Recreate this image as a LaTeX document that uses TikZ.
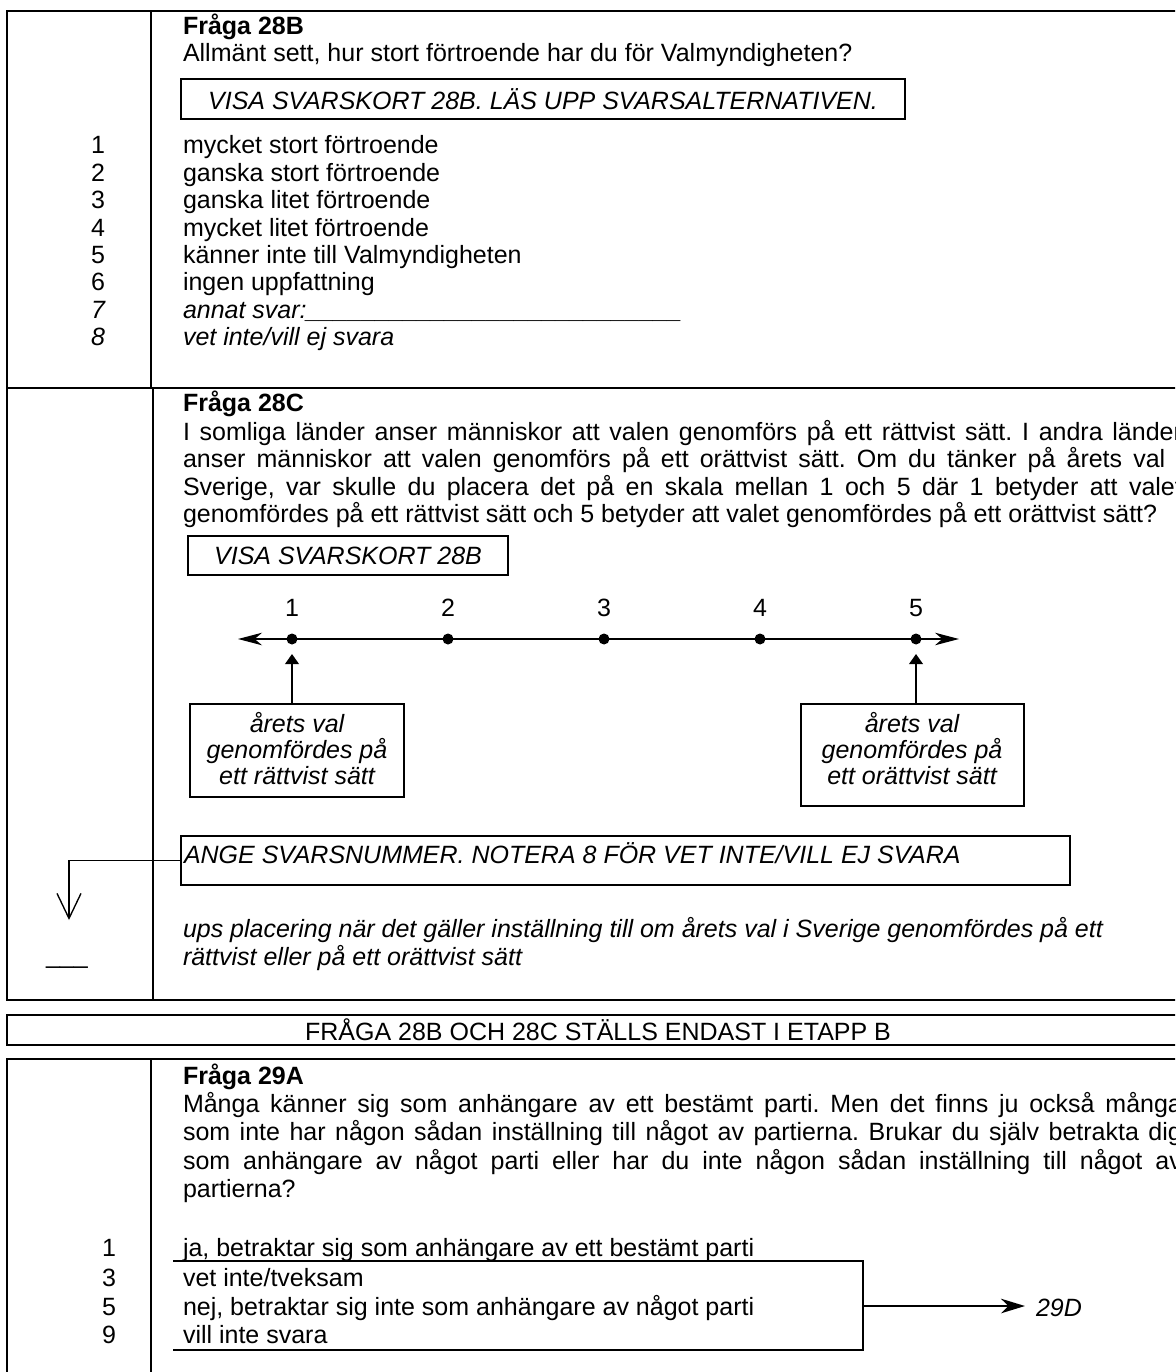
\documentclass[tikz,border=0pt]{standalone}
\usepackage{fontspec}
\setmainfont{Liberation Sans}
\usetikzlibrary{arrows.meta}
\newlength\pxl
\setlength\pxl{0.48pt}
\newcommand\jl[1]{\makebox[999\pxl][s]{#1}}
\frenchspacing
\begin{document}
\fontsize{12pt}{13pt}\selectfont
\begin{tikzpicture}[x=0.48pt,y=-0.48pt,
  every node/.style={inner sep=0pt, outer sep=0pt},
  frame/.style={line width=0.95pt},
  txt/.style={anchor=base west},
  num/.style={anchor=base},
  ctr/.style={anchor=base, font=\itshape},
  boxn/.style={draw, line width=0.8pt, rectangle, anchor=north west},
  dotn/.style={circle, fill, minimum size=11*\pxl},
  scalearrow/.style={line width=0.85pt, {Stealth[length=11.5pt,width=6pt,inset=3.5pt]}-{Stealth[length=11.5pt,width=6pt,inset=3.5pt]}},
  uparrow/.style={line width=0.9pt, -{Triangle[length=4.8pt,width=6.5pt]}},
  openarrow/.style={line width=0.65pt, -{Straight Barb[length=12pt,width=11.5pt]}},
  goarrow/.style={line width=0.9pt, -{Stealth[length=11.5pt,width=7pt,inset=3.5pt]}},
]
\useasboundingbox (0,0) rectangle (1175,1372);
\clip (0,0) rectangle (1175,1372);

% ---------- table 1 ----------
\draw[frame] (7,11) rectangle (1189,1000);
\draw[frame] (151,11) -- (151,388);
\draw[frame] (153,388) -- (153,1000);
\draw[frame] (7,388) -- (1189,388);

% Fråga 28B
\node[txt, font=\bfseries] (q28b) at (183,35) {Fråga 28B};
\node[txt] (q28bq) at (183,62) {Allmänt sett, hur stort förtroende har du för Valmyndigheten?};
\node[boxn, minimum width=724*\pxl, minimum height=40*\pxl, font=\itshape] (visa1) at (181,79) {VISA SVARSKORT 28B. LÄS UPP SVARSALTERNATIVEN.};

\node[num] (bn1) at (98,154) {1};
\node[txt] (bt1) at (183,154) {mycket stort förtroende};
\node[num] (bn2) at (98,181.4) {2};
\node[txt] (bt2) at (183,181.4) {ganska stort förtroende};
\node[num] (bn3) at (98,208.8) {3};
\node[txt] (bt3) at (183,208.8) {ganska litet förtroende};
\node[num] (bn4) at (98,236.2) {4};
\node[txt] (bt4) at (183,236.2) {mycket litet förtroende};
\node[num] (bn5) at (98,263.6) {5};
\node[txt] (bt5) at (183,263.6) {känner inte till Valmyndigheten};
\node[num] (bn6) at (98,291) {6};
\node[txt] (bt6) at (183,291) {ingen uppfattning};
\node[num, font=\itshape] (bn7) at (98,318.4) {7};
\node[txt, font=\itshape] (bt7) at (183,318.4) {annat svar:\_\_\_\_\_\_\_\_\_\_\_\_\_\_\_\_\_\_\_\_\_\_\_\_\_\_\_};
\node[num, font=\itshape] (bn8) at (98,345.8) {8};
\node[txt, font=\itshape] (bt8) at (183,345.8) {vet inte/vill ej svara};

% Fråga 28C
\node[txt, font=\bfseries] (q28c) at (183,412) {Fråga 28C};
\node[txt] (cp1) at (183,440) {\jl{I somliga länder anser människor att valen genomförs på ett rättvist sätt. I andra länder}};
\node[txt] (cp2) at (183,467.5) {\jl{anser människor att valen genomförs på ett orättvist sätt. Om du tänker på årets val i}};
\node[txt] (cp3) at (183,495) {\jl{Sverige, var skulle du placera det på en skala mellan 1 och 5 där 1 betyder att valet}};
\node[txt] (cp4) at (183,522.5) {genomfördes på ett rättvist sätt och 5 betyder att valet genomfördes på ett orättvist sätt?};
\node[boxn, minimum width=320*\pxl, minimum height=39*\pxl, font=\itshape] (visa2) at (188,536) {VISA SVARSKORT 28B};

% scale
\coordinate (sl) at (238,639);
\coordinate (sr) at (959,639);
\draw[scalearrow] (sl) -- (sr);
\foreach \k/\xx in {1/292,2/448,3/604,4/760,5/916}{
  \node[num] (n\k) at (\xx,616) {\k};
  \node[dotn] (d\k) at (\xx,639) {};
}

% description boxes
\node[boxn, line width=0.75pt, minimum width=214*\pxl, minimum height=93*\pxl] (lbox) at (190,704) {};
\node[ctr] (lt1) at (297,732) {årets val};
\node[ctr] (lt2) at (297,758) {genomfördes på};
\node[ctr] (lt3) at (297,784) {ett rättvist sätt};
\node[boxn, line width=0.75pt, minimum width=223*\pxl, minimum height=102*\pxl] (rbox) at (801,704) {};
\node[ctr] (rt1) at (912,732) {årets val};
\node[ctr] (rt2) at (912,758) {genomfördes på};
\node[ctr] (rt3) at (912,784) {ett orättvist sätt};
\draw[uparrow] (lbox.north -| d1) -- ([yshift=-15*\pxl]d1.center);
\draw[uparrow] (rbox.north -| d5) -- ([yshift=-15*\pxl]d5.center);

% instruction box and arrow
\node[boxn, line width=0.7pt, minimum width=889*\pxl, minimum height=49*\pxl] (ange) at (181,836) {};
\node[txt, font=\itshape] (angetxt) at (184,863) {ANGE SVARSNUMMER. NOTERA 8 FÖR VET INTE/VILL EJ SVARA};
\coordinate (dn) at (69,920);
\draw[openarrow] (ange.west) -| (dn);
\node[txt] (blank) at (46,963) {\_\_\_};
\node[txt, font=\itshape] (ups1) at (183,937) {ups placering när det gäller inställning till om årets val i Sverige genomfördes på ett};
\node[txt, font=\itshape] (ups2) at (183,965) {rättvist eller på ett orättvist sätt};

% ---------- bar ----------
\node[draw, frame, minimum width=1182*\pxl, minimum height=30*\pxl, anchor=north west] (bar) at (7,1015) {FRÅGA 28B OCH 28C STÄLLS ENDAST I ETAPP B};

% ---------- table 2 ----------
\draw[frame] (7,1390) -- (7,1059) -- (1189,1059);
\draw[frame] (151,1059) -- (151,1390);
\node[txt, font=\bfseries] (q29a) at (183,1084) {Fråga 29A};
\node[txt] (ap1) at (183,1112) {\jl{Många känner sig som anhängare av ett bestämt parti. Men det finns ju också många}};
\node[txt] (ap2) at (183,1140.5) {\jl{som inte har någon sådan inställning till något av partierna. Brukar du själv betrakta dig}};
\node[txt] (ap3) at (183,1169) {\jl{som anhängare av något parti eller har du inte någon sådan inställning till något av}};
\node[txt] (ap4) at (183,1197) {partierna?};

\node[num] (an1) at (109,1256) {1};
\node[txt] (at1) at (183,1256) {ja, betraktar sig som anhängare av ett bestämt parti};
\node[num] (an3) at (109,1286) {3};
\node[txt] (at3) at (183,1286) {vet inte/tveksam};
\node[num] (an5) at (109,1315) {5};
\node[txt] (at5) at (183,1315) {nej, betraktar sig inte som anhängare av något parti};
\node[num] (an9) at (109,1343) {9};
\node[txt] (at9) at (183,1343) {vill inte svara};

\coordinate (bt) at (173,1261);
\coordinate (bb) at (173,1350);
\draw[line width=0.8pt] (bt) -- (863,1261) -- (863,1350) -- (bb);
\coordinate (brR) at (863,1306);
\node[txt, font=\itshape] (j29d) at (1036,1316) {29D};
\draw[goarrow, shorten >=5.3pt] (brR) -- (brR -| j29d.west);
\end{tikzpicture}
\end{document}
